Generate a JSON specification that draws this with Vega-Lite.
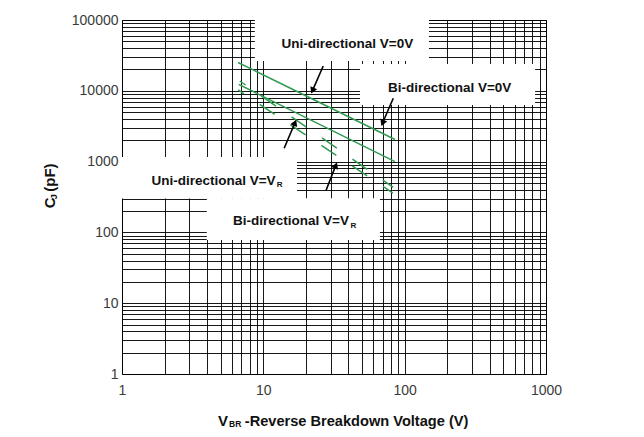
{
  "$schema": "https://vega.github.io/schema/vega-lite/v6.json",
  "width": 424,
  "height": 354,
  "autosize": {"type": "none"},
  "padding": {"left": 122, "top": 20, "right": 98, "bottom": 63},
  "background": "white",
  "config": {
    "view": {"stroke": "#000", "strokeWidth": 1},
    "axis": {
      "grid": true, "gridColor": "#000", "gridWidth": 1, "gridOpacity": 0.9,
      "ticks": false, "domain": false, "title": null,
      "labelFont": "Liberation Sans", "labelFontSize": 14, "labelColor": "#3a3a3a",
      "labelOverlap": false, "labelFlush": false, "labelBound": false
    },
    "text": {"font": "Liberation Sans", "fontWeight": "bold", "color": "#111"}
  },
  "datasets": {
    "boxes": [
      {"x": 8.71, "x2": 148.6, "y": 100000, "y2": 26360},
      {"x": 48.3, "x2": 837, "y": 23910, "y2": 6300},
      {"x": 1, "x2": 17.3, "y": 1161, "y2": 300},
      {"x": 3.98, "x2": 66.8, "y": 303, "y2": 78.1}
    ],
    "solid": [
      {"series": "Uni-directional V=0V", "x": 6.63, "y": 25100},
      {"series": "Uni-directional V=0V", "x": 85.4, "y": 2050},
      {"series": "Bi-directional V=0V", "x": 6.7, "y": 12300},
      {"series": "Bi-directional V=0V", "x": 85.4, "y": 1000}
    ],
    "dashed": [
      {"series": "Uni-directional V=VR", "x": 6.82, "y": 13750},
      {"series": "Uni-directional V=VR", "x": 83, "y": 433},
      {"series": "Bi-directional V=VR", "x": 6.63, "y": 10265},
      {"series": "Bi-directional V=VR", "x": 82.6, "y": 360}
    ],
    "labels": [
      {"x": 13.45, "y": 40620, "text": "Uni-directional V=0V"},
      {"x": 76.15, "y": 9712, "text": "Bi-directional V=0V"},
      {"x": 1.615, "y": 467, "text": "Uni-directional V=V"},
      {"x": 6.11, "y": 127.2, "text": "Bi-directional V=V"}
    ],
    "subs": [
      {"x": 12.46, "y": 442, "text": "R"},
      {"x": 41.3, "y": 115.4, "text": "R"}
    ],
    "arrows": [
      {"x": 26.52, "y": 22400, "x2": 22.27, "y2": 10065, "angle": 203.5},
      {"x": 83.07, "y": 7834, "x2": 69.75, "y2": 3510, "angle": 203.4},
      {"x": 14.04, "y": 1541, "x2": 16.74, "y2": 3543, "angle": 22.9},
      {"x": 27.71, "y": 388, "x2": 32.56, "y2": 884, "angle": 21.3}
    ],
    "xtitleMain": [
      {"x": 7.396, "y": 0.1843, "text": "-Reverse Breakdown Voltage (V)"}
    ],
    "xtitleV": [
      {"x": 5.63, "y": 0.1843, "text": "V"}
    ],
    "xtitleSub": [
      {"x": 5.725, "y": 0.1767, "text": "BR"}
    ],
    "ytitleMain": [
      {"x": 0.3338, "y": 218.9, "text": "C"},
      {"x": 0.3338, "y": 375.7, "text": "(pF)"}
    ],
    "ytitleSub": [
      {"x": 0.3448, "y": 293.4, "text": "J"}
    ]
  },
  "encoding": {
    "x": {
      "field": "x", "type": "quantitative",
      "scale": {"type": "log", "domain": [1, 1000]},
      "axis": {
        "values": [1,2,3,4,5,6,7,8,9,10,20,30,40,50,60,70,80,90,100,200,300,400,500,600,700,800,900,1000],
        "format": "d",
        "labelExpr": "indexof([1,10,100,1000], datum.value) >= 0 ? datum.label : ''",
        "labelPadding": 9
      }
    },
    "y": {
      "field": "y", "type": "quantitative",
      "scale": {"type": "log", "domain": [1, 100000]},
      "axis": {
        "values": [1,2,3,4,5,6,7,8,9,10,20,30,40,50,60,70,80,90,100,200,300,400,500,600,700,800,900,1000,2000,3000,4000,5000,6000,7000,8000,9000,10000,20000,30000,40000,50000,60000,70000,80000,90000,100000],
        "format": "d",
        "labelExpr": "indexof([1,10,100,1000,10000,100000], datum.value) >= 0 ? datum.label : ''",
        "labelPadding": 4
      }
    }
  },
  "layer": [
    {
      "data": {"name": "boxes"},
      "mark": {"type": "rect", "fill": "white", "stroke": null},
      "encoding": {"x2": {"field": "x2"}, "y2": {"field": "y2"}}
    },
    {
      "data": {"name": "solid"},
      "mark": {"type": "line", "color": "#2f9a50", "strokeWidth": 1.5},
      "encoding": {"detail": {"field": "series"}}
    },
    {
      "data": {"name": "dashed"},
      "mark": {"type": "line", "color": "#2f9a50", "strokeWidth": 1.5, "strokeDash": [18, 19], "strokeDashOffset": 11},
      "encoding": {"detail": {"field": "series"}}
    },
    {
      "data": {"name": "arrows"},
      "mark": {"type": "rule", "color": "#000", "strokeWidth": 1.6},
      "encoding": {"x2": {"field": "x2"}, "y2": {"field": "y2"}}
    },
    {
      "data": {"name": "arrows"},
      "mark": {"type": "point", "shape": "triangle-up", "filled": true, "color": "#000", "size": 55, "opacity": 1},
      "encoding": {
        "x": {"field": "x2", "type": "quantitative"},
        "y": {"field": "y2", "type": "quantitative"},
        "angle": {"field": "angle", "type": "quantitative", "scale": null}
      }
    },
    {
      "data": {"name": "labels"},
      "mark": {"type": "text", "align": "left", "baseline": "alphabetic", "fontSize": 13.5},
      "encoding": {"text": {"field": "text"}}
    },
    {
      "data": {"name": "subs"},
      "mark": {"type": "text", "align": "left", "baseline": "alphabetic", "fontSize": 8},
      "encoding": {"text": {"field": "text"}}
    },
    {
      "data": {"name": "xtitleMain"},
      "mark": {"type": "text", "align": "left", "baseline": "alphabetic", "fontSize": 14.6},
      "encoding": {"text": {"field": "text"}}
    },
    {
      "data": {"name": "xtitleV"},
      "mark": {"type": "text", "align": "right", "baseline": "alphabetic", "fontSize": 15},
      "encoding": {"text": {"field": "text"}}
    },
    {
      "data": {"name": "xtitleSub"},
      "mark": {"type": "text", "align": "left", "baseline": "alphabetic", "fontSize": 8.5},
      "encoding": {"text": {"field": "text"}}
    },
    {
      "data": {"name": "ytitleMain"},
      "mark": {"type": "text", "align": "left", "baseline": "alphabetic", "angle": 270, "fontSize": 15},
      "encoding": {"text": {"field": "text"}}
    },
    {
      "data": {"name": "ytitleSub"},
      "mark": {"type": "text", "align": "left", "baseline": "alphabetic", "angle": 270, "fontSize": 9},
      "encoding": {"text": {"field": "text"}}
    }
  ]
}
